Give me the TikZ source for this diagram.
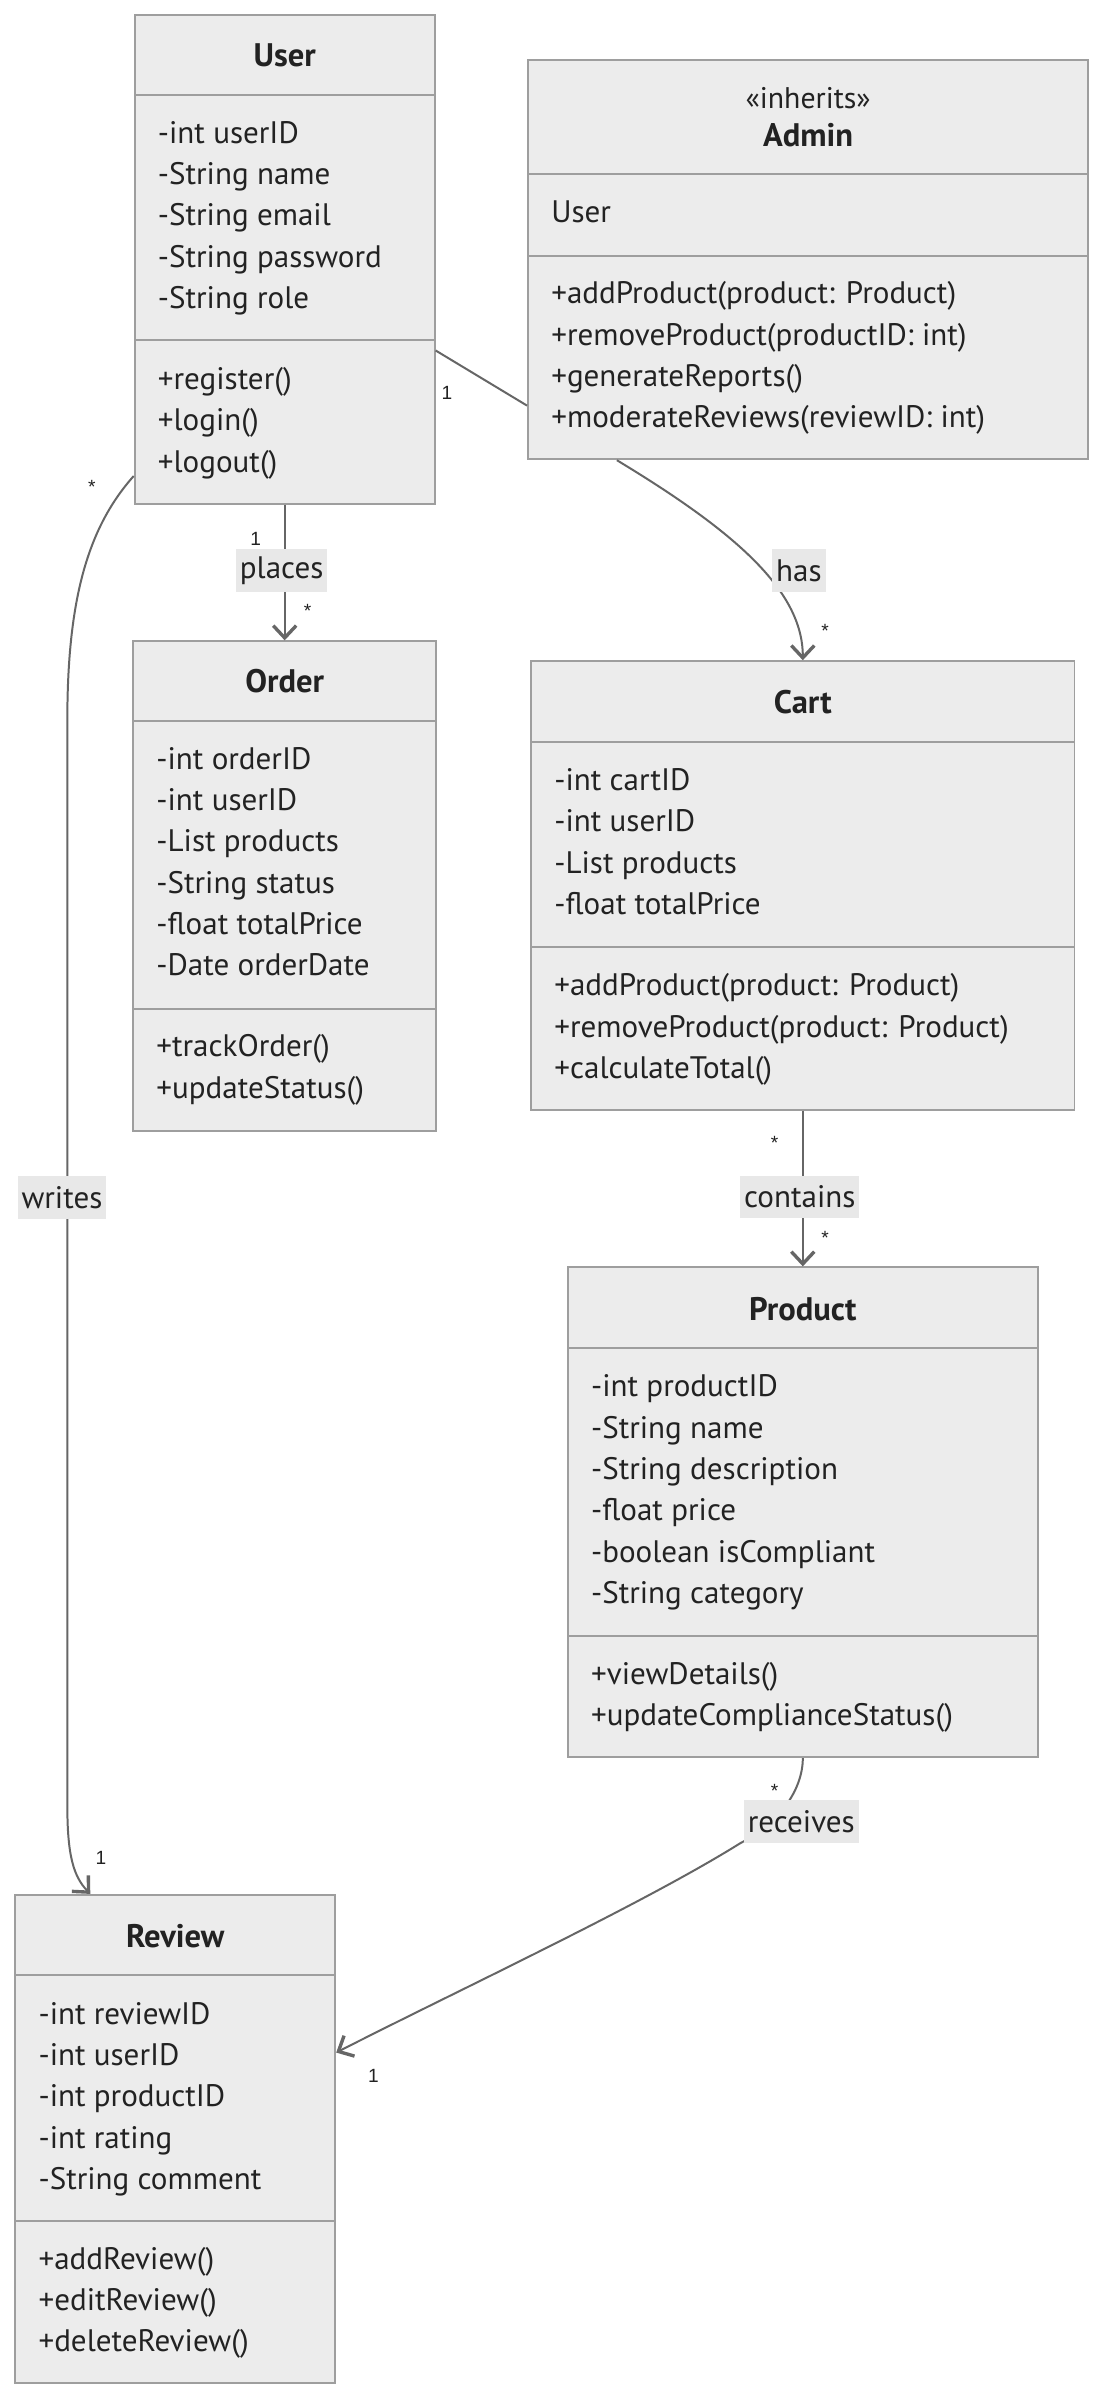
\documentclass[tikz,border=0pt]{standalone}
\usepackage{fontspec}
\setmainfont{PT Sans}
\newfontfamily\multfont{Liberation Sans}
\usetikzlibrary{arrows.meta}
\definecolor{boxfill}{HTML}{ECECEC}
\definecolor{boxline}{HTML}{9E9E9E}
\definecolor{edgeline}{HTML}{666666}
\definecolor{lblfill}{HTML}{E8E8E8}
\definecolor{txt}{HTML}{222222}
\tikzset{
  x=1pt, y=-1pt,
  cls/.style={draw=boxline, fill=boxfill, line width=1.3pt, inner sep=0pt},
  divline/.style={draw=boxline, line width=1.3pt},
  ttl/.style={font=\fontsize{21.3}{24}\selectfont\bfseries, text=txt, inner sep=0pt},
  stereo/.style={font=\fontsize{19.5}{22}\selectfont, text=txt, inner sep=0pt},
  mem/.style={font=\fontsize{20.3}{22}\selectfont, text=txt, anchor=mid west, inner sep=0pt},
  rel/.style={draw=edgeline, line width=1.3pt},
  relarrow/.style={rel, -{Straight Barb[length=8pt, width=15pt, line width=2.2pt]}},
  elabel/.style={fill=lblfill, font=\fontsize{20.3}{22}\selectfont, text=txt, inner xsep=2.5pt, inner ysep=0pt, minimum height=28pt},
  mult/.style={font=\multfont\fontsize{12.5}{14}\selectfont, text=txt, inner sep=0pt},
}
\begin{document}
\begin{tikzpicture}
\useasboundingbox[fill=white] (0,0) rectangle (721.3,1568);

% ---------- User ----------
\node[cls, minimum width=196pt, minimum height=319pt] (user) at (186,169.5) {};
\draw[divline] (88,62) -- (284,62);
\draw[divline] (88,222) -- (284,222);
\node[ttl] (userT) at (186,36) {User};
\node[mem] (u1) at (103,91) {-int userID};
\node[mem] (u2) at (103,118) {-String name};
\node[mem] (u3) at (103,145) {-String email};
\node[mem] (u4) at (103,172) {-String password};
\node[mem] (u5) at (103,199) {-String role};
\node[mem] (u6) at (103,252) {+register()};
\node[mem] (u7) at (103,279) {+login()};
\node[mem] (u8) at (103,306) {+logout()};

% ---------- Admin ----------
\node[cls, minimum width=366pt, minimum height=261pt] (admin) at (528,169.5) {};
\draw[divline] (345,114) -- (711,114);
\draw[divline] (345,167) -- (711,167);
\node[stereo] (adminS) at (528,64) {«inherits»};
\node[ttl] (adminT) at (528,88) {Admin};
\node[mem] (a0) at (360,143) {User};
\node[mem] (a1) at (360,196) {+addProduct(product: Product)};
\node[mem] (a2) at (360,223) {+removeProduct(productID: int)};
\node[mem] (a3) at (360,250) {+generateReports()};
\node[mem] (a4) at (360,277) {+moderateReviews(reviewID: int)};

% ---------- Order ----------
\node[cls, minimum width=198pt, minimum height=320pt] (order) at (186,579) {};
\draw[divline] (87,471) -- (285,471);
\draw[divline] (87,659) -- (285,659);
\node[ttl] (orderT) at (186,445) {Order};
\node[mem] (o1) at (102,500) {-int orderID};
\node[mem] (o2) at (102,527) {-int userID};
\node[mem] (o3) at (102,554) {-List products};
\node[mem] (o4) at (102,581) {-String status};
\node[mem] (o5) at (102,608) {-float totalPrice};
\node[mem] (o6) at (102,635) {-Date orderDate};
\node[mem] (o7) at (102,688) {+trackOrder()};
\node[mem] (o8) at (102,715) {+updateStatus()};

% ---------- Cart ----------
\node[cls, minimum width=355pt, minimum height=293pt] (cart) at (524.5,578.5) {};
\draw[divline] (347,485) -- (702,485);
\draw[divline] (347,619) -- (702,619);
\node[ttl] (cartT) at (524.5,459) {Cart};
\node[mem] (c1) at (362,514) {-int cartID};
\node[mem] (c2) at (362,541) {-int userID};
\node[mem] (c3) at (362,568) {-List products};
\node[mem] (c4) at (362,595) {-float totalPrice};
\node[mem] (c5) at (362,648) {+addProduct(product: Product)};
\node[mem] (c6) at (362,675) {+removeProduct(product: Product)};
\node[mem] (c7) at (362,702) {+calculateTotal()};

% ---------- Product ----------
\node[cls, minimum width=307pt, minimum height=320pt] (product) at (524.5,988) {};
\draw[divline] (371,881) -- (678,881);
\draw[divline] (371,1069) -- (678,1069);
\node[ttl] (productT) at (524.5,855) {Product};
\node[mem] (p1) at (386,910) {-int productID};
\node[mem] (p2) at (386,937) {-String name};
\node[mem] (p3) at (386,964) {-String description};
\node[mem] (p4) at (386,991) {-float price};
\node[mem] (p5) at (386,1018) {-boolean isCompliant};
\node[mem] (p6) at (386,1045) {-String category};
\node[mem] (p7) at (386,1098) {+viewDetails()};
\node[mem] (p8) at (386,1125) {+updateComplianceStatus()};

% ---------- Review ----------
\node[cls, minimum width=209pt, minimum height=319pt] (review) at (114.5,1397.5) {};
\draw[divline] (10,1290) -- (219,1290);
\draw[divline] (10,1451) -- (219,1451);
\node[ttl] (reviewT) at (114.5,1265) {Review};
\node[mem] (r1) at (25,1320) {-int reviewID};
\node[mem] (r2) at (25,1347) {-int userID};
\node[mem] (r3) at (25,1374) {-int productID};
\node[mem] (r4) at (25,1401) {-int rating};
\node[mem] (r5) at (25,1428) {-String comment};
\node[mem] (r6) at (25,1480) {+addReview()};
\node[mem] (r7) at (25,1507) {+editReview()};
\node[mem] (r8) at (25,1534) {+deleteReview()};

% ---------- connector end points ----------
\coordinate (uA) at (user.east |- 0,229);
\coordinate (aU) at (admin.west |- 0,265);
\coordinate (aC) at (admin.south -| 403,0);
\coordinate (uR) at (user.west |- 0,311);
\coordinate (rU) at (review.north -| 59,0);
\coordinate (pR) at (product.south);
\coordinate (rP) at (review.east |- 0,1341);

% ---------- relations ----------
\draw[rel] (uA) -- (aU);
\draw[relarrow] (user.south) -- (order.north);
\draw[relarrow] (aC) .. controls (478,346) and (524.5,385) .. (cart.north);
\draw[relarrow] (cart.south) -- (product.north);
\draw[relarrow] (uR) .. controls (58,344) and (44,390) .. (44,470)
   -- (44,1180) .. controls (44,1212) and (48,1226) .. (rU);
\draw[relarrow] (pR) .. controls (524.5,1170) and (508,1192) .. (484,1204)
   .. controls (420,1244) and (300,1300) .. (rP);

% ---------- edge labels ----------
\node[elabel] (lPlaces) at (184,373) {places};
\node[elabel] (lHas) at (522,373) {has};
\node[elabel] (lContains) at (522.5,782) {contains};
\node[elabel] (lWrites) at (40.5,782.5) {writes};
\node[elabel] (lReceives) at (523.5,1190) {receives};

% ---------- multiplicities ----------
\node[mult] (m1) at (292,257) {1};
\node[mult] (m2) at (167,352) {1};
\node[mult] (m3) at (201,399) {*};
\node[mult] (m4) at (539,412) {*};
\node[mult] (m5) at (506,747) {*};
\node[mult] (m6) at (539,809) {*};
\node[mult] (m7) at (60,318) {*};
\node[mult] (m8) at (66,1214) {1};
\node[mult] (m9) at (506,1170) {*};
\node[mult] (m10) at (244,1356) {1};
\end{tikzpicture}
\end{document}
